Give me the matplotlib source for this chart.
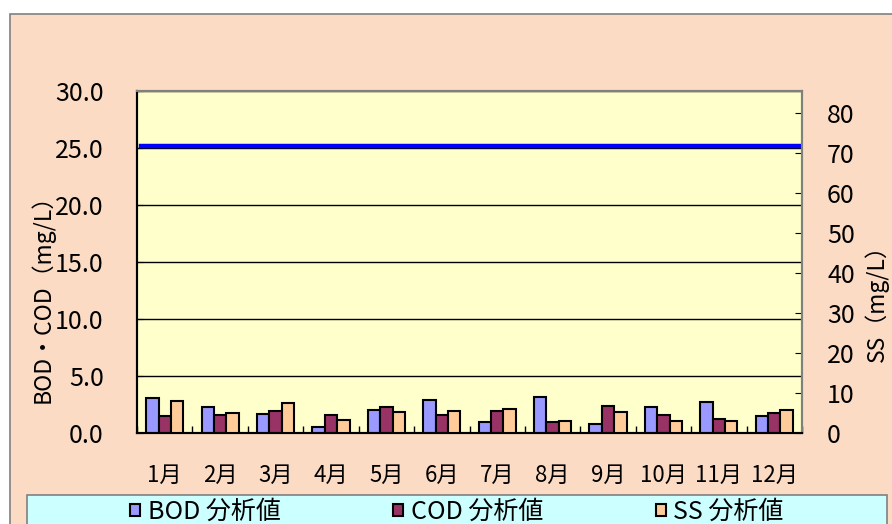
"""BOD・COD・SS 月別分析値 (棒グラフ, 左右2軸)

Output: out.png
"""
import matplotlib.pyplot as plt
import numpy as np
from matplotlib.patches import Rectangle, Patch

plt.rcParams["font.family"] = ["Noto Sans CJK JP", "DejaVu Sans"]

# data
MONTHS = ["1月", "2月", "3月", "4月", "5月", "6月",
          "7月", "8月", "9月", "10月", "11月", "12月"]
BOD = [3.1, 2.3, 1.7, 0.5, 2.0, 2.9, 1.0, 3.2, 0.8, 2.3, 2.7, 1.5]
COD = [1.5, 1.55, 1.9, 1.6, 2.3, 1.6, 1.9, 1.0, 2.4, 1.6, 1.2, 1.75]
SS = [8.0, 5.0, 7.5, 3.3, 5.2, 5.4, 6.0, 2.9, 5.2, 2.9, 2.9, 5.7]
STANDARD = 25.2  # 基準線 (left axis)

C_BOD, C_COD, C_SS = "#9999FF", "#993366", "#FFCC99"
BG_FIG, BG_PLOT, BG_LEG = "#FBDBC4", "#FFFFCC", "#CCFFFF"

W, H = 892, 524
fig = plt.figure(figsize=(W / 100, H / 100), dpi=100, facecolor="white")

# chart area (peach) with gray border
fig.patches.append(Rectangle((10 / W, -0.1), 1.2, 1 - 14 / H + 0.1,
                             transform=fig.transFigure, facecolor=BG_FIG,
                             edgecolor="#808080", linewidth=1.2, zorder=-3))
# legend box
fig.patches.append(Rectangle((27 / W, -0.1), 860 / W, (H - 495) / H + 0.1,
                             transform=fig.transFigure, facecolor=BG_LEG,
                             edgecolor="#808080", linewidth=1.2, zorder=-2))

ax = fig.add_axes([137 / W, 1 - 433 / H, 665 / W, 342 / H])
ax.set_facecolor(BG_PLOT)
ax2 = ax.twinx()

x = np.arange(len(MONTHS))
bw = 0.224
ax.bar(x - bw, BOD, bw, color=C_BOD, edgecolor="black", linewidth=1.5, zorder=3)
ax.bar(x, COD, bw, color=C_COD, edgecolor="black", linewidth=1.5, zorder=3)
ax2.bar(x + bw, SS, bw, color=C_SS, edgecolor="black", linewidth=1.5, zorder=3)
ax.axhline(STANDARD, xmin=0.006, xmax=0.998, color="#0000FF", linewidth=3.2, zorder=4)

ax.set_xlim(-0.5, len(MONTHS) - 0.5)
ax.set_ylim(0, 30)
ax2.set_ylim(0, 85.5)

ax.set_yticks(np.arange(0, 31, 5))
ax.set_yticklabels([f"{v:.1f}" for v in np.arange(0, 31, 5)])
ax.yaxis.grid(True, color="black", linewidth=1.0, zorder=1)
ax.set_axisbelow(True)
ax2.set_yticks(np.arange(0, 81, 10))

ax.set_xticks(x)
ax.set_xticklabels(MONTHS)
ax.set_xticks(np.arange(-0.5, len(MONTHS)), minor=True)
ax.tick_params(axis="x", which="major", length=0, pad=22, labelsize=16)
ax.tick_params(axis="x", which="minor", direction="in", length=5, width=1)
ax.tick_params(axis="y", direction="in", length=4, pad=24, labelsize=18)
ax2.tick_params(axis="y", direction="in", length=5, pad=18, labelsize=18)

for a in (ax, ax2):
    a.spines["top"].set_color("#808080")
    a.spines["right"].set_color("#808080")
    a.spines["left"].set_color("black")
    a.spines["bottom"].set_color("black")
    for s in a.spines.values():
        s.set_linewidth(1.5)

fig.text(42 / W, 1 - 293 / H, "BOD・COD（mg/L）", rotation=90,
         ha="center", va="center", fontsize=16.5)
fig.text(877 / W, 1 - 298 / H, "SS（mg/L）", rotation=90,
         ha="center", va="center", fontsize=16.5)

handles = [Patch(facecolor=c, edgecolor="black", linewidth=1.5)
           for c in (C_BOD, C_COD, C_SS)]
fig.legend(handles, ["BOD 分析値", "COD 分析値", "SS 分析値"], ncol=3,
           loc="center", bbox_to_anchor=(457 / W, 1 - 512 / H),
           frameon=False, fontsize=18, handlelength=0.4, handleheight=0.4,
           handletextpad=0.3, columnspacing=4.5)

fig.savefig("out.png", dpi=100, facecolor="white")
